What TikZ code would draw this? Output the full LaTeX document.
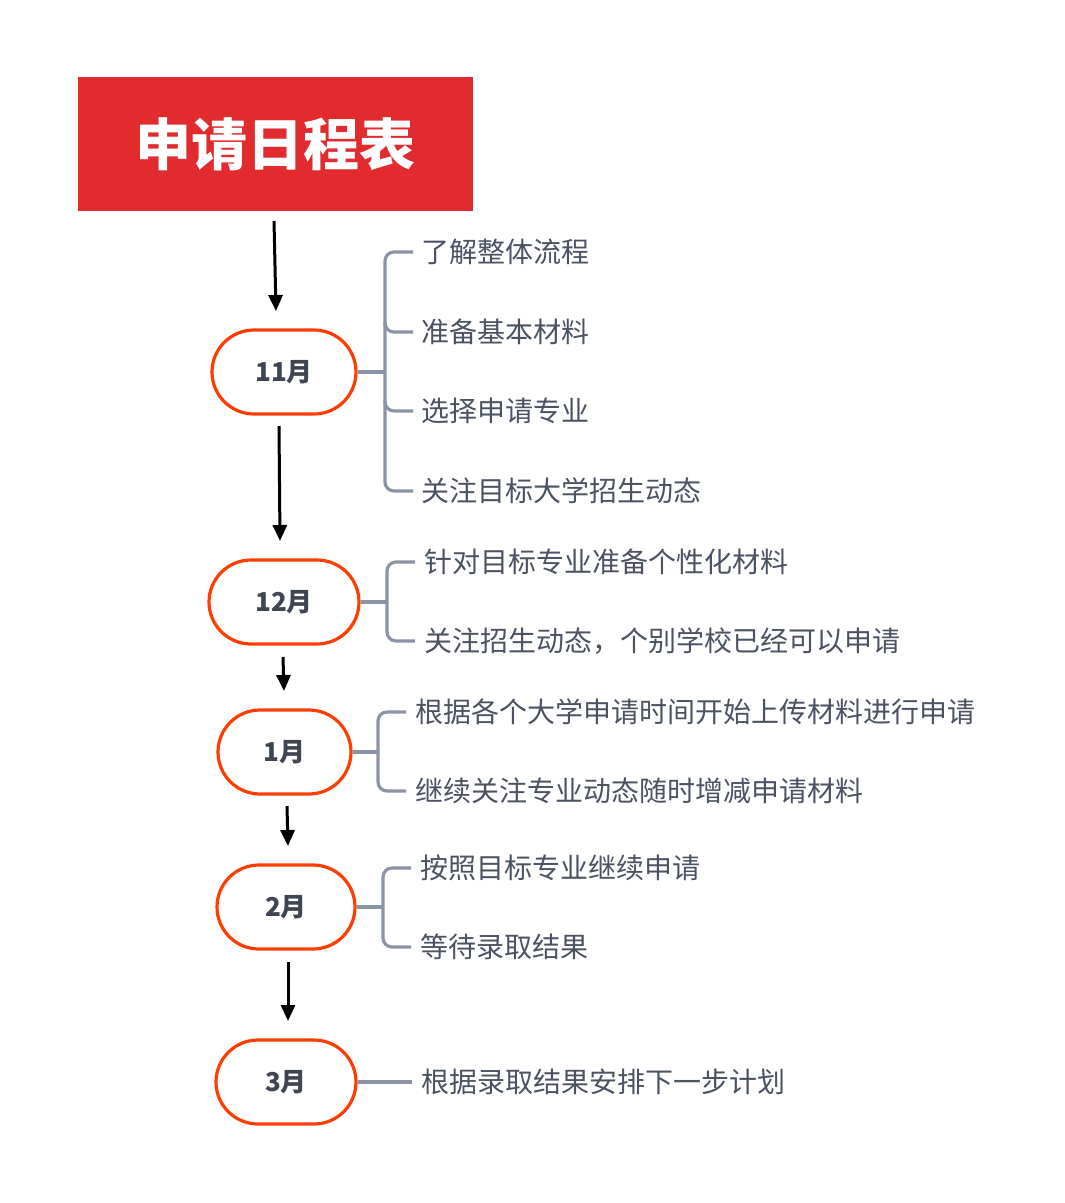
\documentclass[tikz,border=0pt]{standalone}
\usepackage{fontspec}
\newfontfamily\cjk{Noto Sans CJK SC}
\usetikzlibrary{arrows.meta}
\definecolor{titlered}{HTML}{E22B2E}
\definecolor{pillred}{HTML}{FF3D00}
\definecolor{brk}{HTML}{8A94A6}
\definecolor{txt}{HTML}{4B5261}
\definecolor{lbl}{HTML}{3F4651}
\tikzset{
  pill/.style={draw=pillred,line width=3.2pt,fill=white,rounded corners=42pt,minimum height=84pt,inner sep=0pt,font=\cjk\bfseries\fontsize{26}{26}\selectfont,text=lbl},
  arr/.style={draw=black,line width=3pt,-{Triangle[length=16pt,width=14pt]}},
  brace/.style={draw=brk,line width=3.2pt,rounded corners=9pt},
  item/.style={anchor=west,inner sep=0pt,font=\cjk\fontsize{28}{28}\selectfont,text=txt}
}
\begin{document}
\begin{tikzpicture}[x=1pt,y=-1pt]
\useasboundingbox (0,0) rectangle (1065,1203);
% title
\node[fill=titlered,minimum width=395pt,minimum height=134pt,inner sep=0pt,text=white,font=\cjk\bfseries\fontsize{56}{56}\selectfont] (title) at (275.5,144) {申请日程表};
% pills
\node[pill,minimum width=144pt] (m11) at (284,372) {11月};
\node[pill,minimum width=150pt] (m12) at (284,602) {12月};
\node[pill,minimum width=133pt] (m1) at (284.5,752) {1月};
\node[pill,minimum width=138pt] (m2) at (286,907) {2月};
\node[pill,minimum width=140pt] (m3) at (286,1082) {3月};
% arrows
\coordinate (a1s) at (274,221); \coordinate (a1e) at (276,311);
\coordinate (a2s) at (279,426); \coordinate (a2e) at (280,541);
\coordinate (a3s) at (283,657); \coordinate (a3e) at (284,691);
\coordinate (a4s) at (287,806); \coordinate (a4e) at (288,846);
\coordinate (a5s) at (288,962); \coordinate (a5e) at (288,1021);
\draw[arr] (a1s) -- (a1e);
\draw[arr] (a2s) -- (a2e);
\draw[arr] (a3s) -- (a3e);
\draw[arr] (a4s) -- (a4e);
\draw[arr] (a5s) -- (a5e);
% 11月 brace
\draw[brace] (413,252) -- (385,252) -- (385,491) -- (413,491);
\draw[brace] (385,322) -- (385,332) -- (413,332);
\draw[brace] (385,401) -- (385,411) -- (413,411);
\draw[brace] (m11.east) -- (385,372);
\node[item] (t1) at (421,252) {了解整体流程};
\node[item] (t2) at (421,332) {准备基本材料};
\node[item] (t3) at (421,411) {选择申请专业};
\node[item] (t4) at (421,491) {关注目标大学招生动态};
% 12月 brace
\draw[brace] (415,562) -- (387,562) -- (387,641) -- (415,641);
\draw[brace] (m12.east) -- (387,602);
\node[item] (t5) at (424,562) {针对目标专业准备个性化材料};
\node[item] (t6) at (424,641) {关注招生动态，个别学校已经可以申请};
% 1月 brace
\draw[brace] (406,712) -- (378,712) -- (378,791) -- (406,791);
\draw[brace] (m1.east) -- (378,752);
\node[item] (t7) at (415,712) {根据各个大学申请时间开始上传材料进行申请};
\node[item] (t8) at (415,791) {继续关注专业动态随时增减申请材料};
% 2月 brace
\draw[brace] (411,868) -- (383,868) -- (383,947) -- (411,947);
\draw[brace] (m2.east) -- (383,907);
\node[item] (t9) at (420,868) {按照目标专业继续申请};
\node[item] (t10) at (420,947) {等待录取结果};
% 3月
\draw[brace] (m3.east) -- (412,1082);
\node[item] (t11) at (421,1082) {根据录取结果安排下一步计划};
\end{tikzpicture}
\end{document}
